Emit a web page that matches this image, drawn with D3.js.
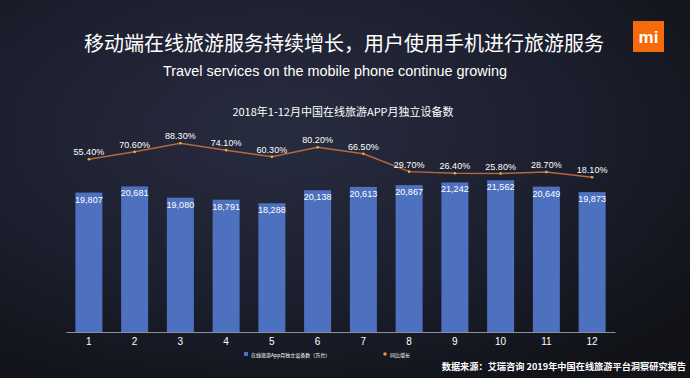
<!DOCTYPE html>
<html lang="zh">
<head>
  <meta charset="UTF-8">
  <title>2018年中国在线旅游APP月独立设备数</title>
  <script src="https://d3js.org/d3.v7.min.js"></script>
  <style>
    html, body { margin: 0; padding: 0; background: #171a26; }
    svg { display: block; font-family: "Liberation Sans", "Noto Sans CJK SC", sans-serif; }
  </style>
</head>
<body>
  <svg width="690" height="378"></svg>
  <script>
    const months = ['1', '2', '3', '4', '5', '6', '7', '8', '9', '10', '11', '12'];
    const devices = [19807, 20681, 19080, 18791, 18288, 20138, 20613, 20867, 21242, 21562, 20649, 19873];
    const growth = [55.4, 70.6, 88.3, 74.1, 60.3, 80.2, 66.5, 29.7, 26.4, 25.8, 28.7, 18.1];

    const data = months.map((m, i) => ({ month: m, devices: devices[i], growth: growth[i] }));

    const W = 690, H = 378;
    const svg = d3.select('svg');
    const cjk = '"Noto Sans CJK SC", sans-serif';

    // background
    const defs = svg.append('defs');
    const bg = defs.append('radialGradient').attr('id', 'bg')
      .attr('cx', '40%').attr('cy', '35%').attr('r', '75%');
    bg.append('stop').attr('offset', '0%').attr('stop-color', '#282c40');
    bg.append('stop').attr('offset', '60%').attr('stop-color', '#1b1e2c');
    bg.append('stop').attr('offset', '100%').attr('stop-color', '#111319');
    svg.append('rect').attr('width', W).attr('height', H).attr('fill', 'url(#bg)');

    // titles
    svg.append('text').attr('x', 344).attr('y', 51).attr('text-anchor', 'middle')
      .attr('fill', '#ffffff').attr('font-size', 20).style('font-family', cjk)
      .text('移动端在线旅游服务持续增长，用户使用手机进行旅游服务');
    svg.append('text').attr('x', 335).attr('y', 76).attr('text-anchor', 'middle')
      .attr('fill', '#ffffff').attr('font-size', 15)
      .attr('textLength', 344).attr('lengthAdjust', 'spacingAndGlyphs')
      .text('Travel services on the mobile phone continue growing');
    svg.append('text').attr('x', 343).attr('y', 116).attr('text-anchor', 'middle')
      .attr('fill', '#ffffff').attr('font-size', 11).style('font-family', cjk)
      .text('2018年1-12月中国在线旅游APP月独立设备数');

    // logo
    svg.append('rect').attr('x', 633).attr('y', 21).attr('width', 31).attr('height', 31)
      .attr('fill', '#f56b0c');
    svg.append('text').attr('x', 648.5).attr('y', 43).attr('text-anchor', 'middle')
      .attr('fill', '#ffffff').attr('font-size', 17).attr('font-weight', 'bold')
      .text('mi');

    // scales
    const x = d3.scaleBand().domain(months).range([66, 615])
      .paddingInner(0.41).paddingOuter(0.205);
    const y = d3.scaleLinear().domain([0, 25000]).range([332, 156]);
    const y2 = d3.scaleLinear().domain([0, 100]).range([186, 137.6]);

    // bars
    svg.selectAll('.bar').data(data).enter().append('rect')
      .attr('class', 'bar')
      .attr('x', d => x(d.month))
      .attr('y', d => y(d.devices))
      .attr('width', x.bandwidth())
      .attr('height', d => y(0) - y(d.devices))
      .attr('fill', '#4d70bf');

    svg.selectAll('.bar-label').data(data).enter().append('text')
      .attr('x', d => x(d.month) + x.bandwidth() / 2)
      .attr('y', d => y(d.devices) + 10)
      .attr('text-anchor', 'middle')
      .attr('fill', '#ffffff').attr('font-size', 9)
      .text(d => d3.format(',')(d.devices));

    // x axis
    const xAxis = svg.append('g').attr('transform', 'translate(0,332)')
      .call(d3.axisBottom(x).tickSize(0).tickPadding(6));
    xAxis.select('.domain').attr('stroke', '#8b8f99').attr('stroke-width', 1);
    xAxis.selectAll('text').attr('fill', '#ffffff').attr('font-size', 10)
      .style('font-family', '"Liberation Sans", sans-serif');

    // growth line
    const line = d3.line()
      .x(d => x(d.month) + x.bandwidth() / 2)
      .y(d => y2(d.growth));
    svg.append('path').datum(data)
      .attr('d', line)
      .attr('fill', 'none')
      .attr('stroke', '#b8683a')
      .attr('stroke-width', 1.5);
    svg.selectAll('.dot').data(data).enter().append('circle')
      .attr('cx', d => x(d.month) + x.bandwidth() / 2)
      .attr('cy', d => y2(d.growth))
      .attr('r', 1.3)
      .attr('fill', '#e8b04a');
    svg.selectAll('.growth-label').data(data).enter().append('text')
      .attr('x', d => x(d.month) + x.bandwidth() / 2)
      .attr('y', d => y2(d.growth) - 4)
      .attr('text-anchor', 'middle')
      .attr('fill', '#ffffff').attr('font-size', 9)
      .text(d => d.growth.toFixed(2) + '%');

    // legend
    svg.append('rect').attr('x', 244).attr('y', 352).attr('width', 4).attr('height', 4)
      .attr('fill', '#4d70bf');
    svg.append('text').attr('x', 251).attr('y', 356.5).attr('fill', '#ffffff')
      .attr('font-size', 5).style('font-family', cjk)
      .text('在线旅游App月独立设备数（万台）');
    svg.append('circle').attr('cx', 385).attr('cy', 354).attr('r', 1.8).attr('fill', '#e8953a');
    svg.append('text').attr('x', 390).attr('y', 356.5).attr('fill', '#ffffff')
      .attr('font-size', 5).style('font-family', cjk)
      .text('同比增长');

    // source
    svg.append('text').attr('x', 686).attr('y', 370).attr('text-anchor', 'end')
      .attr('fill', '#ffffff').attr('font-size', 9.2).attr('font-weight', 'bold')
      .style('font-family', cjk)
      .text('数据来源：艾瑞咨询 2019年中国在线旅游平台洞察研究报告');
  </script>
</body>
</html>
